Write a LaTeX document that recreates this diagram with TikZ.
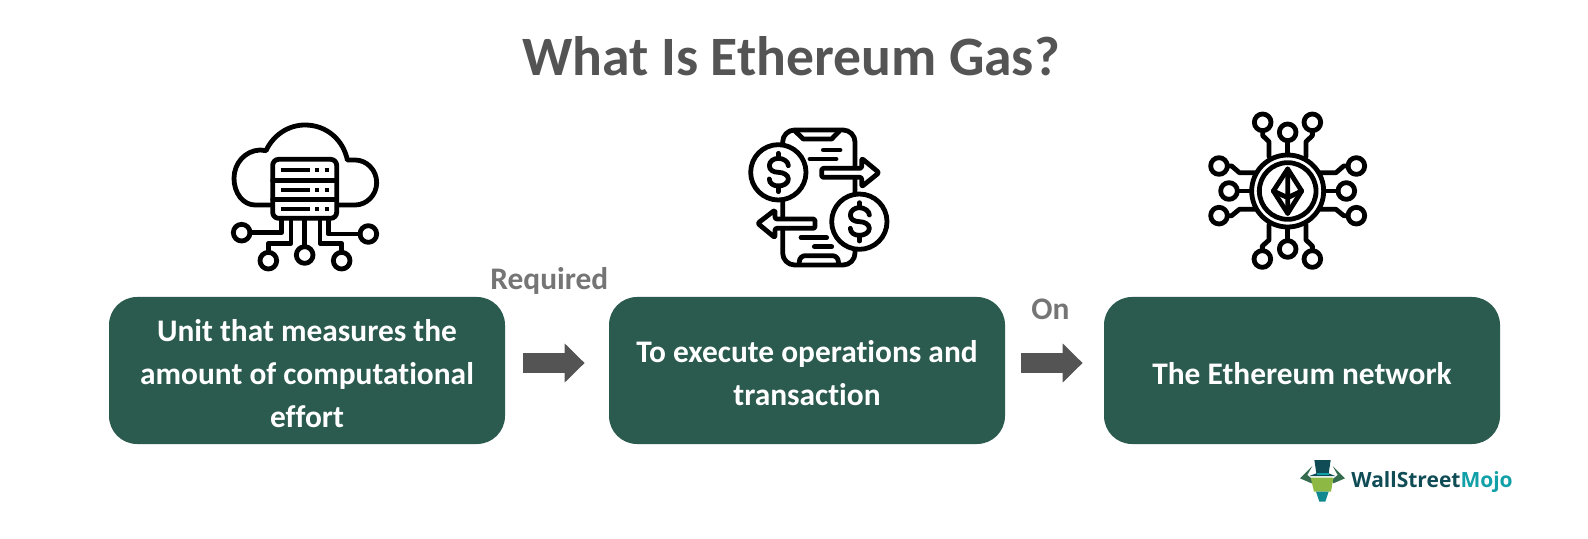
\documentclass[tikz,border=0pt]{standalone}
\usepackage{fontspec}
\setmainfont{Carlito}[Ligatures={NoCommon}]
\newfontfamily\logofont{Open Sans}
\usetikzlibrary{arrows.meta,calc}
\definecolor{boxgreen}{HTML}{2B5A4F}
\definecolor{darkgrey}{HTML}{545454}
\definecolor{midgrey}{HTML}{757575}
\definecolor{logodark}{HTML}{0F4C55}
\definecolor{logoteal}{HTML}{12A0A8}
\definecolor{logolime}{HTML}{8DB843}
\tikzset{
  x=0.5pt,y=-0.5pt,
  box/.style={fill=boxgreen,rounded corners=14pt,minimum width=198pt,minimum height=73.5pt,inner sep=0pt,
    text=white,align=center,font=\fontsize{15.7}{21.5}\selectfont\bfseries},
  tag/.style={text=midgrey,inner sep=0pt,anchor=base west,font=\fontsize{15.7}{18}\selectfont\bfseries},
  flow/.style={draw=darkgrey,line width=10pt,-{Triangle[length=10pt,width=19pt,fill=darkgrey]},shorten <=9pt,shorten >=12pt},
  icon/.style={draw=black,line width=2.4pt,line join=round,line cap=round},
  iconscale/.style={x=0.16667pt,y=-0.16667pt},
  ring/.style={icon,fill=white}
}
\newcommand{\lift}{\rule{0pt}{14pt}}
\newcommand{\dollarmark}[2]{%
  \begin{scope}[shift={(#1,#2)}]
    \draw[icon] (30,-20) .. controls (30,-32) and (15,-42) .. (0,-42) .. controls (-15,-42) and (-27,-32) .. (-27,-20)
      .. controls (-27,-7) and (-15,0) .. (0,0) .. controls (15,0) and (30,8) .. (30,20)
      .. controls (30,33) and (15,41) .. (0,41) .. controls (-15,41) and (-27,33) .. (-27,20);
    \draw[icon] (0,-57) -- (0,-42) (0,41) -- (0,58);
  \end{scope}}
\begin{document}
\begin{tikzpicture}
\useasboundingbox (0,0) rectangle (1588,539);
\node[text=darkgrey,inner sep=0pt,anchor=base,font=\fontsize{27.8}{30}\selectfont\bfseries] (title) at (791,76) {What Is Ethereum Gas?};

\node[box] (b1) at (307,370.5) {\lift Unit that measures the\\amount of computational\\effort};
\node[box] (b2) at (807,370.5) {\lift To execute operations and\\transaction};
\node[box] (b3) at (1302,370.5) {\lift The Ethereum network};

\node[tag] (t1) at (490,289.5) {Required};
\node[tag] (t2) at (1031,319.5) {On};

\coordinate (a1) at ($(b1.east)+(0,-7.5)$);
\coordinate (a2) at ($(b2.west)+(0,-7.5)$);
\coordinate (a3) at ($(b2.east)+(0,-7.5)$);
\coordinate (a4) at ($(b3.west)+(0,-7.5)$);
\draw[flow] (a1) -- (a2);
\draw[flow,shorten <=8pt,shorten >=10.5pt] (a3) -- (a4);

% cloud icon
\begin{scope}[shift={(210,110)},iconscale]
  \draw[icon] (187,285) -- (135,285) .. controls (100,285) and (72,250) .. (72,205)
    .. controls (72,160) and (105,122) .. (150,120) -- (168,122)
    .. controls (190,75) and (235,45) .. (285,45)
    .. controls (350,45) and (400,90) .. (412,150) -- (435,150)
    .. controls (470,150) and (500,180) .. (500,218)
    .. controls (500,255) and (470,285) .. (435,285) -- (383,285);
  \draw[icon,rounded corners=3pt] (188,148) rectangle (380,325);
  \draw[icon] (188,212) -- (380,212) (188,268) -- (380,268);
  \foreach \yy in {180,240,297}{
    \draw[icon,line cap=butt] (212,\yy) -- (300,\yy) (316,\yy) -- (328,\yy) (344,\yy) -- (356,\yy);
  }
  \draw[icon] (284,325) -- (284,410);
  \draw[icon] (284,435) circle[radius=25];
  \draw[icon] (215,325) -- (215,368) -- (120,368);
  \draw[icon] (95,368) circle[radius=25];
  \draw[icon] (355,325) -- (355,372) -- (450,372);
  \draw[icon] (475,372) circle[radius=25];
  \draw[icon] (243,325) -- (243,400) -- (175,400) -- (175,427);
  \draw[icon] (175,452) circle[radius=25];
  \draw[icon] (330,325) -- (330,400) -- (395,400) -- (395,427);
  \draw[icon] (395,452) circle[radius=25];
\end{scope}

% phone icon
\begin{scope}[shift={(720,115)},iconscale]
  \draw[icon,rounded corners=6pt] (188,45) rectangle (405,450);
  \draw[icon] (225,48) -- (250,72) -- (335,72) -- (358,48);
  \draw[icon,rounded corners=3pt] (238,448) -- (238,422) -- (355,422) -- (355,448);
  \draw[icon] (310,105) -- (360,105) (270,132) -- (348,132) (243,368) -- (320,368) (283,395) -- (335,395);
  \draw[ring,rounded corners=1pt] (305,160) -- (425,160) -- (425,130) -- (477,173) -- (425,215) -- (425,187) -- (305,187) -- cycle;
  \draw[ring,rounded corners=1pt] (285,312) -- (165,312) -- (165,285) -- (113,325) -- (165,368) -- (165,340) -- (285,340) -- cycle;
  \draw[ring] (175,172) circle[radius=83];
  \draw[ring] (418,320) circle[radius=83];
  \dollarmark{175}{172}
  \dollarmark{418}{320}
\end{scope}

% ethereum icon
\begin{scope}[shift={(1180,105)},iconscale]
  \draw[icon] (323,258) circle[radius=108];
  \draw[icon] (323,258) circle[radius=85];
  \draw[icon] (323,192) -- (365,258) -- (323,325) -- (280,258) -- cycle;
  \draw[icon] (323,192) -- (323,325) (280,258) -- (323,278) -- (365,258);
  \foreach \cx/\cy in {248/52,323/82,397/52,323/432,247/462,397/462,117/183,147/258,117/332,529/183,499/258,529/332}{
    \draw[icon] (\cx,\cy) circle[radius=25];
  }
  \draw[icon] (323,107) -- (323,150) (323,368) -- (323,407);
  \draw[icon] (248,77) -- (248,92) -- (267,110) -- (267,155);
  \draw[icon] (397,77) -- (397,92) -- (378,110) -- (378,155);
  \draw[icon] (267,360) -- (267,405) -- (247,423) -- (247,437);
  \draw[icon] (378,360) -- (378,405) -- (397,423) -- (397,437);
  \draw[icon] (215,258) -- (172,258) (431,258) -- (474,258);
  \draw[icon] (142,183) -- (155,183) -- (178,203) -- (225,203);
  \draw[icon] (142,332) -- (155,332) -- (178,313) -- (225,313);
  \draw[icon] (504,183) -- (491,183) -- (468,203) -- (421,203);
  \draw[icon] (504,332) -- (491,332) -- (468,313) -- (421,313);
\end{scope}

% logo
\begin{scope}[shift={(1270,445)},iconscale]
  \fill[logodark!70!logolime] (90,100) -- (127,63) -- (112,90) -- (130,105) -- (125,115) -- cycle;
  \fill[logodark!70!logolime] (225,100) -- (188,63) -- (203,90) -- (185,105) -- (190,115) -- cycle;
  \fill[logolime] (122,98) -- (190,98) -- (183,140) -- (132,140) -- cycle;
  \fill[logoteal!70!logodark] (138,140) -- (176,140) -- (166,170) -- (148,170) -- cycle;
  \fill[logodark] (133,45) -- (182,45) -- (176,85) -- (196,93) -- (118,93) -- (139,85) -- cycle;
  \fill[logoteal] (140,84) rectangle (176,90);
\end{scope}
\node[inner sep=0pt,anchor=base west,font=\fontsize{10.5}{12}\selectfont\logofont\bfseries] (logo) at (1351,487) {\textcolor{logodark}{WallStreet}\textcolor{logoteal}{Mojo}};
\end{tikzpicture}
\end{document}
